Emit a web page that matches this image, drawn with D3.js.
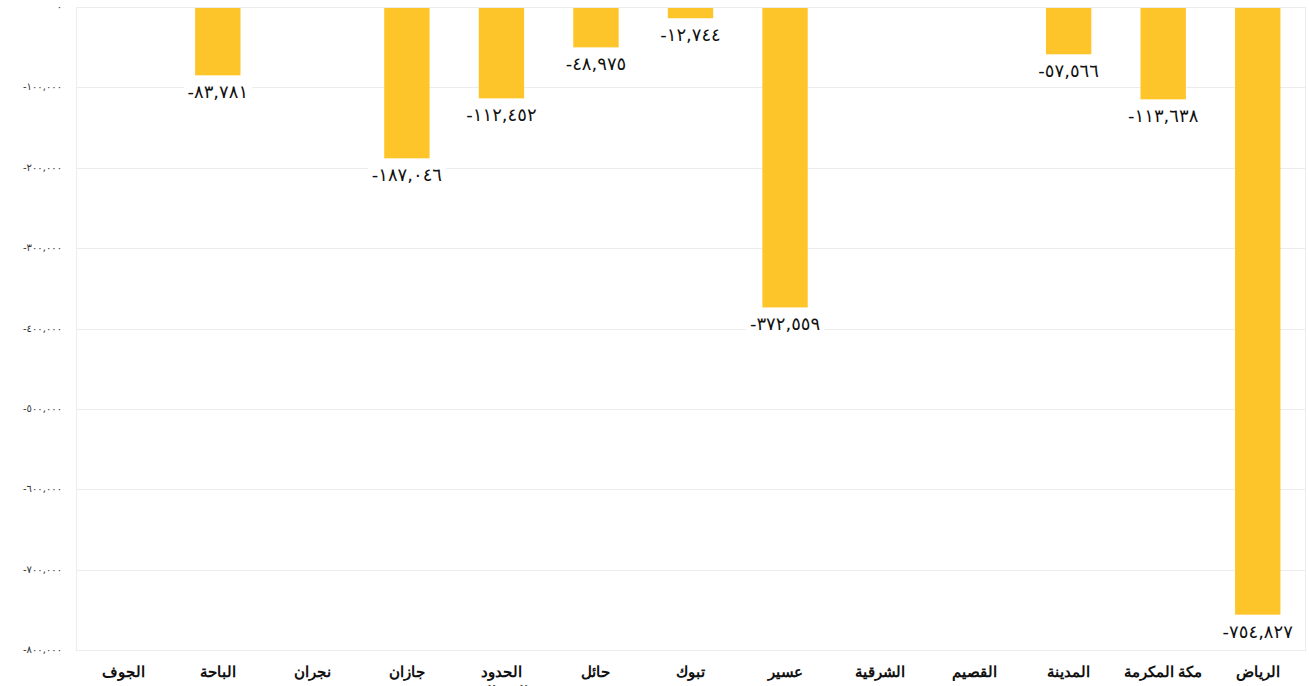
<!DOCTYPE html>
<html lang="ar">
<head>
<meta charset="utf-8">
<script src="https://cdn.jsdelivr.net/npm/d3@7"></script>
<style>
  body { margin: 0; background: #fff; }
  svg { display: block; }
</style>
</head>
<body>
<svg width="1309" height="686"></svg>
<script>
// regions, left to right as drawn
var regions = ["الجوف", "الباحة", "نجران", "جازان", "الحدود الشمالية", "حائل", "تبوك",
               "عسير", "الشرقية", "القصيم", "المدينة", "مكة المكرمة", "الرياض"];
var values = [0, -83781, 0, -187046, -112452, -48975, -12744,
              -372559, 0, 0, -57566, -113638, -754827];
var yTicks = [0, -100000, -200000, -300000, -400000, -500000, -600000, -700000, -800000];

var svg = d3.select("svg");
var plotL = 76, plotR = 1305, plotT = 7, plotB = 650;

var arDigits = "٠١٢٣٤٥٦٧٨٩";
function toAr(s) { return s.replace(/[0-9]/g, function(c) { return arDigits[+c]; }); }
var fmt = function(v) { return toAr(d3.format(",")(Math.abs(v))); };
var fmtSigned = function(v) { return v < 0 ? "-" + fmt(v) : fmt(v); };

var x = d3.scaleBand().domain(regions).range([plotL, plotR]).paddingInner(0.52).paddingOuter(0.26);
var y = d3.scaleLinear().domain([0, -800000]).range([plotT, plotB]);

// frame + gridlines
svg.append("rect")
   .attr("x", plotL + 0.5).attr("y", plotT + 0.5)
   .attr("width", plotR - plotL).attr("height", plotB - plotT)
   .attr("fill", "none").attr("stroke", "#ececec");

svg.append("g").selectAll("line")
   .data(yTicks).enter().append("line")
   .attr("x1", plotL).attr("x2", plotR)
   .attr("y1", function(d) { return Math.round(y(d)) + 0.5; })
   .attr("y2", function(d) { return Math.round(y(d)) + 0.5; })
   .attr("stroke", "#ececec");

// y axis labels
svg.append("g").selectAll("text")
   .data(yTicks).enter().append("text")
   .attr("x", 62)
   .attr("y", function(d) { return y(d) + 3; })
   .attr("text-anchor", "end")
   .attr("font-family", "DejaVu Sans, sans-serif")
   .attr("font-size", "10px")
   .attr("letter-spacing", "0.5px")
   .attr("fill", "#333")
   .text(function(d) { return fmtSigned(d); });

// bars
var barData = regions.map(function(r, i) { return { region: r, value: values[i] }; })
                     .filter(function(d) { return d.value !== 0; });

svg.append("g").selectAll("rect")
   .data(barData).enter().append("rect")
   .attr("x", function(d) { return x(d.region); })
   .attr("y", y(0) + 1)
   .attr("width", x.bandwidth())
   .attr("height", function(d) { return y(d.value) - y(0); })
   .attr("fill", "#fec52b");

// value labels with white backing
var lbl = svg.append("g").selectAll("g")
   .data(barData).enter().append("g")
   .attr("transform", function(d) {
     return "translate(" + (x(d.region) + x.bandwidth() / 2) + "," + (y(d.value) + 24) + ")";
   });

lbl.append("text")
   .attr("text-anchor", "middle")
   .attr("font-family", "DejaVu Sans, sans-serif")
   .attr("font-size", "18px")
   .attr("letter-spacing", "1.2px")
   .attr("fill", "#111")
   .text(function(d) { return fmtSigned(d.value); })
   .each(function() {
     var b = this.getBBox();
     d3.select(this.parentNode).insert("rect", "text")
       .attr("x", b.x - 4).attr("y", b.y)
       .attr("width", b.width + 8).attr("height", b.height)
       .attr("fill", "#fff");
   });

// category labels (two lines for long names)
var cat = svg.append("g").selectAll("text")
   .data(regions).enter().append("text")
   .attr("x", function(d) { return x(d) + x.bandwidth() / 2; })
   .attr("y", 677)
   .attr("text-anchor", "middle")
   .attr("font-family", "Liberation Sans, Arial, sans-serif")
   .attr("font-weight", "bold")
   .attr("font-size", "15px")
   .attr("fill", "#111");

cat.each(function(d) {
  var t = d3.select(this);
  var parts = d === "الحدود الشمالية" ? ["الحدود", "الشمالية"] : [d];
  parts.forEach(function(p, i) {
    t.append("tspan")
     .attr("x", x(d) + x.bandwidth() / 2)
     .attr("dy", i === 0 ? 0 : "1.3em")
     .text(p);
  });
});
</script>
</body>
</html>
